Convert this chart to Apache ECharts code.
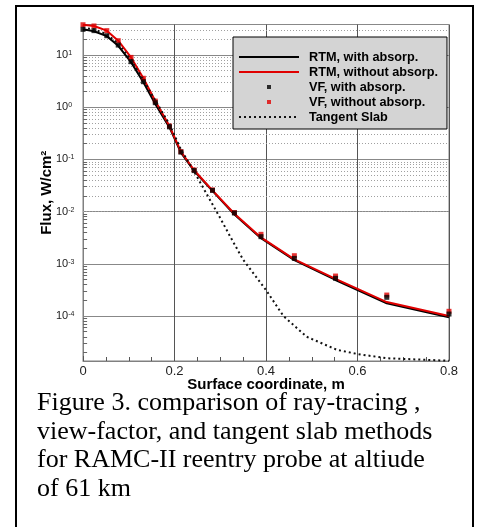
<!DOCTYPE html>
<html>
<head>
<meta charset="utf-8">
<script src="https://cdn.jsdelivr.net/npm/echarts@6/dist/echarts.min.js"></script>
<style>html,body{margin:0;padding:0;background:#fff;}#c{width:480px;height:527px;}</style>
</head>
<body>
<div id="c"></div>
<script>
// Surface coordinate (m) of the computed points
const xPoints = [0, 0.024, 0.052, 0.077, 0.105, 0.132, 0.158, 0.189, 0.214, 0.243, 0.283, 0.331, 0.389, 0.462, 0.552, 0.664, 0.8];
// Flux, W/cm^2
const rtmWith    = [31, 28.5, 23, 15, 7.3, 3.0, 1.15, 0.41, 0.135, 0.06, 0.025, 0.0088, 0.0031, 0.00118, 4.9e-4, 1.75e-4, 9.5e-5];
const rtmWithout = [38, 36, 29.3, 18.8, 9.0, 3.58, 1.31, 0.436, 0.141, 0.062, 0.0255, 0.0091, 0.0032, 0.00122, 5.15e-4, 1.85e-4, 1.0e-4];
const vfWith     = [31, 29.3, 23.4, 15.5, 7.45, 3.08, 1.22, 0.42, 0.138, 0.061, 0.0255, 0.0094, 0.00331, 0.00127, 5.27e-4, 2.28e-4, 1.09e-4];
const vfWithout  = [38, 36, 29.3, 18.8, 9.0, 3.58, 1.31, 0.436, 0.141, 0.0627, 0.026, 0.0096, 0.00367, 0.00143, 5.83e-4, 2.52e-4, 1.23e-4];
// Tangent slab curve
const slabX = [0, 0.024, 0.052, 0.077, 0.105, 0.132, 0.158, 0.189, 0.214, 0.243, 0.27, 0.3, 0.322, 0.35, 0.4, 0.438, 0.489, 0.555, 0.6, 0.664, 0.8];
const slabY = [33, 31, 25, 16.5, 8, 3.3, 1.35, 0.47, 0.155, 0.058, 0.022, 0.0075, 0.0033, 0.0012, 3.15e-4, 1.0e-4, 4.0e-5, 2.25e-5, 1.87e-5, 1.55e-5, 1.39e-5];
const xTicks = [0, 0.2, 0.4, 0.6, 0.8];
const yMin = 1.374e-5, yMax = 38.4;
const names = ['RTM, with absorp.', 'RTM, without absorp.', 'VF, with absorp.', 'VF, without absorp.', 'Tangent Slab'];
const caption = ['Figure 3. comparison of ray-tracing ,', 'view-factor, and tangent slab methods', 'for RAMC-II reentry probe at altiude', 'of 61 km'];

const pair = (xs, ys) => xs.map((x, i) => [x, ys[i]]);

// minor log grid values (2..9 per decade) inside the range
const minorVals = [];
for (let e = -5; e <= 1; e++) {
  for (let m = 2; m <= 9; m++) {
    const v = m * Math.pow(10, e);
    if (v > yMin && v < yMax) minorVals.push(v);
  }
}

const chart = echarts.init(document.getElementById('c'), null, {renderer: 'canvas'});
const sans = 'Liberation Sans, Arial, sans-serif';
const noSym = {color: 'rgba(0,0,0,0)', borderWidth: 0};
const sq = 'path://M0 0H10V10H0Z';
chart.setOption({
  animation: false,
  backgroundColor: '#fff',
  title: {
    text: caption.join('\n'),
    left: 37, top: 389, padding: 0,
    textStyle: {fontFamily: 'Liberation Serif, Times New Roman, serif', fontSize: 26, fontWeight: 'normal', color: '#000', lineHeight: 28.5}
  },
  graphic: [{
    type: 'rect', silent: true,
    shape: {x: 16, y: 6, width: 457, height: 530},
    style: {fill: 'none', stroke: '#000', lineWidth: 2}
  }],
  grid: {left: 83, top: 24.5, right: 31, bottom: 166, show: true, borderColor: '#808080', borderWidth: 1, backgroundColor: 'transparent'},
  legend: {
    orient: 'vertical', left: 233, top: 37, z: 20,
    data: [
      {name: names[0], itemStyle: noSym},
      {name: names[1], itemStyle: noSym},
      {name: names[2], icon: sq},
      {name: names[3], icon: sq},
      {name: names[4], itemStyle: noSym}
    ],
    backgroundColor: '#d4d4d4', borderColor: '#000', borderWidth: 1,
    padding: [13, 9, 5, 5],
    itemWidth: 60, itemHeight: 4, itemGap: 1,
    symbolKeepAspect: true,
    selectedMode: false,
    lineStyle: {width: 2},
    textStyle: {fontFamily: sans, fontWeight: 'bold', fontSize: 12.7, color: '#000', lineHeight: 14, padding: [0, 0, 0, 5]}
  },
  xAxis: {
    type: 'value', min: xTicks[0], max: xTicks[xTicks.length - 1], interval: 0.2,
    name: 'Surface coordinate, m', nameLocation: 'middle', nameGap: 16, nameMoveOverlap: false,
    nameTextStyle: {fontFamily: sans, fontWeight: 'bold', fontSize: 15, color: '#000', verticalAlign: 'top'},
    axisLine: {show: true, lineStyle: {color: '#808080', width: 1}},
    axisTick: {show: true, inside: true, length: 5, lineStyle: {color: '#555'}},
    minorTick: {show: true, splitNumber: 4, length: 4, lineStyle: {color: '#555'}},
    splitLine: {show: true, lineStyle: {color: '#555', width: 1}},
    axisLabel: {margin: 4, fontFamily: sans, fontSize: 13, color: '#222'}
  },
  yAxis: {
    type: 'log', logBase: 10, min: yMin, max: yMax,
    name: 'Flux, W/cm\u00b2', nameLocation: 'middle', nameGap: 29, nameMoveOverlap: false,
    nameTextStyle: {fontFamily: sans, fontWeight: 'bold', fontSize: 15, color: '#000'},
    axisLine: {show: true, lineStyle: {color: '#808080', width: 1}},
    axisTick: {show: false},
    splitLine: {show: true, lineStyle: {color: '#888', width: 1}},
    axisLabel: {
      align: 'left', margin: 27,
      formatter: function (v) {
        const l = Math.log10(v), r = Math.round(l);
        if (Math.abs(l - r) > 1e-6) return '';
        return '{b|10}{s|' + r + '}';
      },
      rich: {
        b: {fontFamily: sans, fontSize: 11, color: '#222', lineHeight: 11},
        s: {fontFamily: sans, fontSize: 7, color: '#222', lineHeight: 7, verticalAlign: 'top'}
      }
    }
  },
  series: [
    {
      name: '_minorGrid', type: 'line', data: [], z: 1, silent: true,
      markLine: {
        z: 1, silent: true, symbol: 'none', label: {show: false}, animation: false,
        lineStyle: {color: '#a0a0a0', width: 1, type: [1, 2]},
        data: minorVals.map(v => ({yAxis: v}))
      }
    },
    {
      name: '_minorTicks', type: 'line', data: [], z: 1, silent: true,
      markLine: {
        z: 1, silent: true, symbol: 'none', label: {show: false}, animation: false,
        lineStyle: {color: '#666', width: 1, type: 'solid'},
        data: minorVals.map(v => [{coord: [0, v]}, {coord: [0.009, v]}])
      }
    },
    {
      name: names[0], type: 'line', data: pair(xPoints, rtmWith), symbol: 'none', z: 3,
      lineStyle: {color: '#000', width: 2}, itemStyle: {color: '#000'}
    },
    {
      name: names[1], type: 'line', data: pair(xPoints, rtmWithout), symbol: 'none', z: 3,
      lineStyle: {color: '#e00000', width: 2}, itemStyle: {color: '#e00000'}
    },
    {
      name: names[3], type: 'scatter', data: pair(xPoints, vfWithout), symbol: 'rect', symbolSize: 5, z: 4,
      itemStyle: {color: '#e00000'}
    },
    {
      name: names[2], type: 'scatter', data: pair(xPoints, vfWith), symbol: 'rect', symbolSize: 5, z: 4,
      itemStyle: {color: '#000'}
    },
    {
      name: names[4], type: 'line', data: pair(slabX, slabY), symbol: 'none', z: 5,
      lineStyle: {color: '#111', width: 2, type: [2, 3]}, itemStyle: {color: '#111'}
    }
  ]
});
</script>
</body>
</html>
